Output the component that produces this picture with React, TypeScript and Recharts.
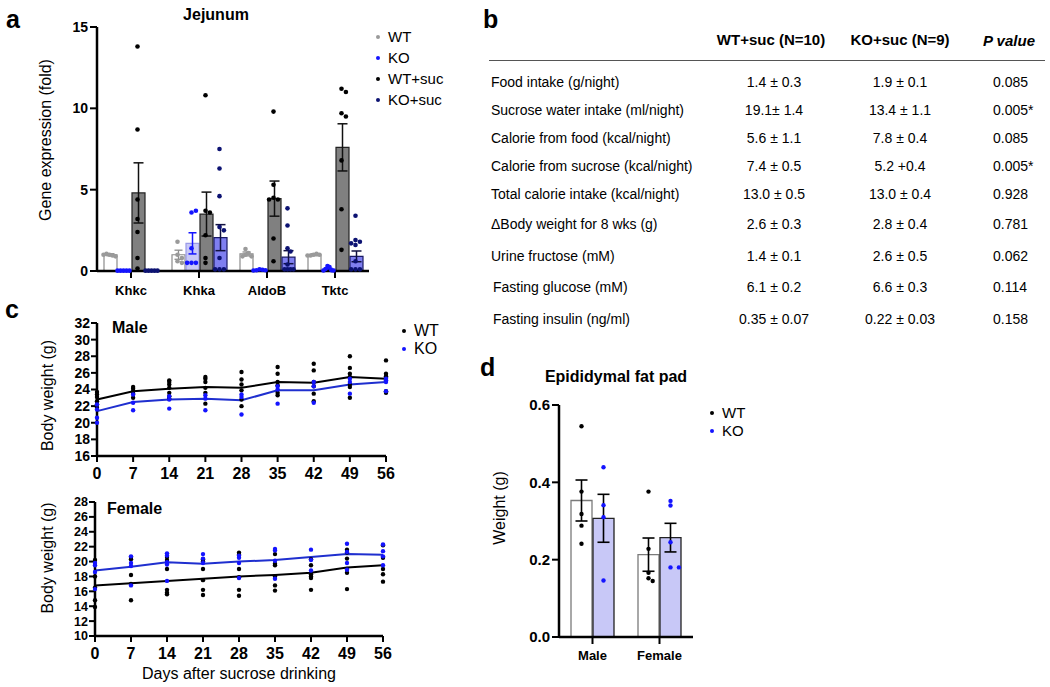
import React from 'react';
import { ComposedChart, Bar, ErrorBar, Scatter, XAxis, YAxis, Line } from 'recharts';

const FONT = '"Liberation Sans", Arial, Helvetica, sans-serif';

// ---------------- Panel a data ----------------
const genes = ['Khkc', 'Khka', 'AldoB', 'Tktc'];
const groupNames = ['WT', 'KO', 'WT+suc', 'KO+suc'];
const wtMean = [1.0, 1.0, 1.05, 1.0];
const wtSem = [0.06, 0.28, 0.12, 0.06];
const koMean = [0.02, 1.7, 0.05, 0.12];
const koSem = [0.01, 0.65, 0.02, 0.05];
const wtSucMean = [4.8, 3.5, 4.45, 7.6];
const wtSucSem = [1.85, 1.35, 1.08, 1.45];
const koSucMean = [0.02, 2.05, 0.85, 0.9];
const koSucSem = [0.01, 0.8, 0.4, 0.33];

const wtDots = [
  [1.0, 0.95, 1.05, 0.9, 1.0],
  [1.8, 1.0, 0.8, 0.6, 0.5],
  [1.35, 1.1, 1.0, 0.9, 0.9],
  [1.0, 1.05, 0.95, 1.0, 0.95],
];
const koDots = [
  [0.02, 0.02, 0.02, 0.02, 0.02],
  [3.6, 3.7, 1.4, 0.5, 0.5, 0.5],
  [0.1, 0.08, 0.05, 0.05, 0.03],
  [0.3, 0.25, 0.12, 0.05, 0.03, 0.03],
];
const wtSucDots = [
  [13.8, 8.7, 4.4, 3.2, 2.4, 0.8, 0.15],
  [10.8, 3.7, 3.6, 2.2, 0.8, 0.5],
  [9.8, 5.3, 4.5, 4.4, 4.4, 2.0, 0.6],
  [11.2, 11.0, 9.7, 9.5, 6.8, 3.8, 1.3],
];
const koSucDots = [
  [0.02, 0.02, 0.02, 0.02, 0.02],
  [7.5, 6.3, 4.6, 2.7, 2.5, 0.8, 0.1, 0.1, 0.1],
  [3.85, 2.8, 1.4, 1.2, 0.4, 0.1, 0.1, 0.1, 0.1],
  [3.4, 1.9, 1.8, 1.7, 1.6, 0.6, 0.1, 0.1, 0.1],
];
const aTicks = [0, 5, 10, 15];

// ---------------- Panel b data ----------------
const tableHeaders = ['WT+suc (N=10)', 'KO+suc (N=9)', 'P value'];
const tableLabels = [
  'Food intake (g/night)',
  'Sucrose water intake (ml/night)',
  'Calorie from food (kcal/night)',
  'Calorie from sucrose (kcal/night)',
  'Total calorie intake (kcal/night)',
  '\u0394Body weight for 8 wks (g)',
  'Urine fructose (mM)',
  'Fasting glucose (mM)',
  'Fasting insulin (ng/ml)',
];
const wtSucValues = ['1.4 \u00b1 0.3', '19.1\u00b1 1.4', '5.6 \u00b1 1.1', '7.4 \u00b1 0.5', '13.0 \u00b1 0.5', '2.6 \u00b1 0.3', '1.4 \u00b1 0.1', '6.1 \u00b1 0.2', '0.35 \u00b1 0.07'];
const koSucValues = ['1.9 \u00b1 0.1', '13.4 \u00b1 1.1', '7.8 \u00b1 0.4', '5.2 +0.4', '13.0 \u00b1 0.4', '2.8 \u00b1 0.4', '2.6 \u00b1 0.5', '6.6 \u00b1 0.3', '0.22 \u00b1 0.03'];
const pValues = ['0.085', '0.005*', '0.085', '0.005*', '0.928', '0.781', '0.062', '0.114', '0.158'];

// ---------------- Panel c data ----------------
const days = [0, 7, 14, 21, 28, 35, 42, 49, 56];
const maleWtMean = [22.8, 23.8, 24.1, 24.3, 24.2, 24.9, 24.8, 25.5, 25.3];
const maleKoMean = [21.4, 22.5, 22.8, 22.9, 22.7, 23.9, 23.9, 24.6, 24.9];
const maleWtPts = [
  [23.7, 23.4, 23.1, 22.6, 22.2, 21.8],
  [24.3, 24.1, 23.8, 23.5, 23.0],
  [25.1, 24.9, 24.6, 24.2, 23.6, 23.2, 22.9],
  [25.5, 25.3, 24.9, 24.2, 23.6, 22.3],
  [26.1, 25.2, 24.6, 23.9, 22.8, 22.0],
  [26.7, 25.9, 24.9, 24.5, 23.6, 23.3],
  [27.1, 26.3, 24.9, 24.4, 23.5, 22.6],
  [28.0, 26.6, 25.9, 25.5, 24.6, 24.3, 23.0],
  [27.5, 25.9, 25.6, 25.4, 23.8, 23.6],
];
const maleKoPts = [
  [22.2, 21.6, 20.6, 20.0],
  [23.4, 22.4, 21.5],
  [23.2, 22.8, 21.7],
  [23.3, 22.9, 21.5],
  [23.4, 23.1, 21.0],
  [24.4, 24.0, 22.3],
  [24.9, 24.4, 22.4],
  [25.3, 24.9, 23.5],
  [25.3, 25.1, 24.9, 23.8],
];
const femaleWtMean = [16.8, 17.1, 17.4, 17.7, 18.0, 18.2, 18.5, 19.2, 19.5];
const femaleKoMean = [18.8, 19.3, 19.9, 19.7, 20.0, 20.2, 20.6, 21.0, 20.9];
const femaleWtPts = [
  [20.2, 18.0, 16.5, 14.8, 13.9],
  [20.6, 20.3, 18.2, 17.0, 14.8],
  [20.6, 20.2, 19.0, 16.2, 15.8, 15.6],
  [20.3, 20.0, 19.0, 17.5, 16.2, 15.5],
  [21.2, 20.9, 19.0, 17.9, 16.2, 15.4],
  [21.0, 19.7, 19.5, 18.0, 16.8, 16.1],
  [20.3, 19.5, 18.3, 18.0, 17.8, 16.2],
  [21.6, 21.2, 20.4, 19.0, 18.5, 16.3],
  [22.2, 20.5, 19.0, 18.3, 17.3],
];
const femaleKoPts = [
  [19.8, 19.5, 18.6, 16.3],
  [20.7, 19.8, 19.4, 16.8],
  [21.1, 20.8, 19.9, 19.6, 17.4],
  [21.0, 20.4, 19.8],
  [20.8, 20.5, 19.8, 17.8],
  [21.7, 21.5, 20.1, 17.7],
  [21.6, 20.2, 18.8],
  [22.4, 21.3, 19.8, 18.9],
  [22.3, 21.4, 20.7, 19.5],
];
const maleTicks = [16, 18, 20, 22, 24, 26, 28, 30, 32];
const femaleTicks = [10, 12, 14, 16, 18, 20, 22, 24, 26, 28];

// ---------------- Panel d data ----------------
const sexes = ['Male', 'Female'];
const fatWtMean = [0.353, 0.213];
const fatWtSem = [0.053, 0.043];
const fatKoMean = [0.307, 0.257];
const fatKoSem = [0.062, 0.037];
const fatWtDots = [
  [0.545, 0.376, 0.318, 0.288, 0.241],
  [0.376, 0.228, 0.166, 0.152, 0.145],
];
const fatKoDots = [
  [0.439, 0.341, 0.31, 0.146],
  [0.352, 0.34, 0.245, 0.18, 0.18],
];
const fatTicks = [0, 0.2, 0.4, 0.6];

// ---------------- colours ----------------
const GREY_DOT = '#9a9a9a';
const BLUE = '#1414ff';
const NAVY = '#0c1272';
const LINE_BLUE = '#1f2fcf';

// ---------------- helpers ----------------
// beeswarm offsets in pixels, kept within the bar
function swarm(values: number[], pxPerUnit: number, step: number, maxHalf: number, diam = 4.4): number[] {
  const placed: { dx: number; py: number }[] = [];
  const offs = values.map((v) => {
    const py = v * pxPerUnit;
    const cands = [0];
    for (let k = 1; k < 10; k++) cands.push(k * step, -k * step);
    for (const c of cands) {
      const ok = placed.every((p) => Math.hypot(p.dx - c, p.py - py) >= diam);
      if (ok) {
        placed.push({ dx: c, py });
        return c;
      }
    }
    placed.push({ dx: 0, py });
    return 0;
  });
  const m = Math.max(...offs.map((o) => Math.abs(o)));
  const s = m > maxHalf ? maxHalf / m : 1;
  return offs.map((o) => o * s);
}

function barCenter(j: number, n: number, band: number, size: number, gap: number) {
  const sum = n * size + (n - 1) * gap;
  const off = ((band - sum) / 2) >> 0;
  return off + j * (size + gap) + size / 2;
}

function groupPoints(dots: number[][], j: number, n: number, band: number, size: number, gap: number, pxPerUnit: number, step: number) {
  const out: { x: number; y: number }[] = [];
  dots.forEach((vals, i) => {
    const offs = swarm(vals, pxPerUnit, step, size / 2 - 0.5);
    vals.forEach((v, k) => {
      out.push({ x: i + (barCenter(j, n, band, size, gap) + offs[k]) / band, y: v });
    });
  });
  return out;
}

const dotShape = (color: string, r = 2.3) => (p: any) => <circle cx={p.cx} cy={p.cy} r={r} fill={color} />;

const tickBold = (size: number) => ({ fontSize: size, fontWeight: 700, fill: '#000' });
const axisLine = { stroke: '#000', strokeWidth: 2.5 };
const tickLine = { stroke: '#000', strokeWidth: 2 };

// ---------------- Panel a ----------------
const A_W = 470, A_H = 310, A_TOP = 27, A_XH = 39, A_YW = 97, A_RIGHT = 101;
const A_BAND = (A_W - A_YW - A_RIGHT) / genes.length;
const A_PX = (A_H - A_TOP - A_XH) / 15;
const A_BAR = 13, A_GAP = 1;

function PanelA() {
  const data = genes.map((g, i) => ({
    gene: g,
    wt: wtMean[i], wtE: wtSem[i],
    ko: koMean[i], koE: koSem[i],
    ws: wtSucMean[i], wsE: wtSucSem[i],
    ks: koSucMean[i], ksE: koSucSem[i],
  }));
  const allDots = [wtDots, koDots, wtSucDots, koSucDots];
  const dotColors = [GREY_DOT, BLUE, '#000', NAVY];
  const pts = allDots.map((d, j) => groupPoints(d, j, 4, A_BAND, A_BAR, A_GAP, A_PX, 4.4));
  return (
    <ComposedChart width={A_W} height={A_H} data={data} margin={{ top: A_TOP, right: A_RIGHT, bottom: 0, left: 0 }} barSize={A_BAR} barGap={A_GAP}>
      <XAxis xAxisId="c" dataKey="gene" type="category" height={A_XH} axisLine={axisLine} tickLine={tickLine} tickSize={7} tick={tickBold(13)} tickMargin={8} interval={0} />
      <XAxis xAxisId="n" dataKey="x" type="number" domain={[0, 4]} allowDataOverflow hide />
      <YAxis domain={[0, 15]} ticks={aTicks} width={A_YW} axisLine={axisLine} tickLine={tickLine} tickSize={7} tick={tickBold(14)} tickMargin={2} interval={0}
        label={{ value: 'Gene expression (fold)', angle: -90, position: 'insideLeft', offset: 45, dy: -9, style: { textAnchor: 'middle', fontSize: 16, fill: '#000' } }} />
      <Bar xAxisId="c" dataKey="wt" fill="#ffffff" stroke="#8c8c8c" strokeWidth={1.2} isAnimationActive={false}>
        <ErrorBar dataKey="wtE" width={4} stroke="#8c8c8c" strokeWidth={1.3} />
      </Bar>
      <Bar xAxisId="c" dataKey="ko" fill="#c9c9f7" stroke="#9a9ae8" strokeWidth={1.2} isAnimationActive={false}>
        <ErrorBar dataKey="koE" width={4} stroke={BLUE} strokeWidth={1.5} />
      </Bar>
      <Bar xAxisId="c" dataKey="ws" fill="#808080" stroke="#222" strokeWidth={1.2} isAnimationActive={false}>
        <ErrorBar dataKey="wsE" width={5} stroke="#111" strokeWidth={1.5} />
      </Bar>
      <Bar xAxisId="c" dataKey="ks" fill="#7f7ff0" stroke="#1a1a66" strokeWidth={1.2} isAnimationActive={false}>
        <ErrorBar dataKey="ksE" width={5} stroke="#111140" strokeWidth={1.5} />
      </Bar>
      {pts.map((p, j) => (
        <Scatter key={groupNames[j]} xAxisId="n" data={p} dataKey="y" shape={dotShape(dotColors[j])} isAnimationActive={false} />
      ))}
    </ComposedChart>
  );
}

// ---------------- Panel c ----------------
function WeightChart(props: { wtMean: number[]; koMean: number[]; wtPts: number[][]; koPts: number[][]; ticks: number[]; top: number; height: number; xh: number; yw: number; right: number; ytick: number; labelDy: number; xlabel?: string }) {
  const lineData = days.map((d, i) => ({ day: d, wt: props.wtMean[i], ko: props.koMean[i] }));
  const flat = (arr: number[][]) => arr.flatMap((vals, i) => vals.map((v) => ({ day: days[i], w: v })));
  const lo = props.ticks[0], hi = props.ticks[props.ticks.length - 1];
  return (
    <ComposedChart width={470} height={props.height} data={lineData} margin={{ top: props.top, right: props.right, bottom: 0, left: 0 }}>
      <XAxis dataKey="day" type="number" domain={[0, 56]} ticks={days} height={props.xh} axisLine={axisLine} tickLine={tickLine} tickSize={6} tick={tickBold(16)} tickMargin={6} interval={0}
        label={props.xlabel ? { value: props.xlabel, position: 'insideBottom', offset: 8, style: { fontSize: 16, fill: '#000' } } : undefined} />
      <YAxis domain={[lo, hi]} ticks={props.ticks} width={props.yw} axisLine={axisLine} tickLine={tickLine} tickSize={6} tick={tickBold(props.ytick)} tickMargin={1} interval={0}
        label={{ value: 'Body weight (g)', angle: -90, position: 'insideLeft', offset: 47, dy: props.labelDy, style: { textAnchor: 'middle', fontSize: 16, fill: '#000' } }} />
      <Scatter data={flat(props.wtPts)} dataKey="w" shape={dotShape('#000', 2.2)} isAnimationActive={false} />
      <Scatter data={flat(props.koPts)} dataKey="w" shape={dotShape(BLUE, 2.2)} isAnimationActive={false} />
      <Line type="linear" dataKey="wt" stroke="#000" strokeWidth={2} dot={false} isAnimationActive={false} />
      <Line type="linear" dataKey="ko" stroke={LINE_BLUE} strokeWidth={2} dot={false} isAnimationActive={false} />
    </ComposedChart>
  );
}

// ---------------- Panel d ----------------
const D_W = 250, D_H = 307, D_TOP = 25, D_XH = 50, D_YW = 99, D_RIGHT = 17;
const D_BAND = (D_W - D_YW - D_RIGHT) / sexes.length;
const D_PX = (D_H - D_TOP - D_XH) / 0.6;
const D_BAR = 21, D_GAP = 1;

function PanelD() {
  const data = sexes.map((s, i) => ({ sex: s, wt: fatWtMean[i], wtE: fatWtSem[i], ko: fatKoMean[i], koE: fatKoSem[i] }));
  const wtPts = groupPoints(fatWtDots, 0, 2, D_BAND, D_BAR, D_GAP, D_PX, 4.2);
  const koPts = groupPoints(fatKoDots, 1, 2, D_BAND, D_BAR, D_GAP, D_PX, 4.2);
  return (
    <ComposedChart width={D_W} height={D_H} data={data} margin={{ top: D_TOP, right: D_RIGHT, bottom: 0, left: 0 }} barSize={D_BAR} barGap={D_GAP}>
      <XAxis xAxisId="c" dataKey="sex" type="category" height={D_XH} axisLine={axisLine} tickLine={tickLine} tickSize={7} tick={tickBold(13)} tickMargin={7} interval={0} />
      <XAxis xAxisId="n" dataKey="x" type="number" domain={[0, 2]} allowDataOverflow hide />
      <YAxis domain={[0, 0.6]} ticks={fatTicks} width={D_YW} axisLine={axisLine} tickLine={tickLine} tickSize={7} tick={tickBold(15)} tickMargin={2} interval={0}
        tickFormatter={(v: number) => v.toFixed(1)}
        label={{ value: 'Weight (g)', angle: -90, position: 'insideLeft', offset: 39, dy: -13, style: { textAnchor: 'middle', fontSize: 16, fill: '#000' } }} />
      <Bar xAxisId="c" dataKey="wt" fill="#ffffff" stroke="#7a7a7a" strokeWidth={1.3} isAnimationActive={false}>
        <ErrorBar dataKey="wtE" width={6} stroke="#000" strokeWidth={1.6} />
      </Bar>
      <Bar xAxisId="c" dataKey="ko" fill="#c8c8f7" stroke="#222" strokeWidth={1.3} isAnimationActive={false}>
        <ErrorBar dataKey="koE" width={6} stroke="#000" strokeWidth={1.6} />
      </Bar>
      <Scatter xAxisId="n" data={wtPts} dataKey="y" shape={dotShape('#000', 2.2)} isAnimationActive={false} />
      <Scatter xAxisId="n" data={koPts} dataKey="y" shape={dotShape(BLUE, 2.2)} isAnimationActive={false} />
    </ComposedChart>
  );
}

// ---------------- layout helpers ----------------
const abs = (left: number, top: number, extra: React.CSSProperties = {}): React.CSSProperties => ({ position: 'absolute', left, top, ...extra });

function Txt(props: { x: number; y: number; children: React.ReactNode; size?: number; bold?: boolean; italic?: boolean; align?: 'left' | 'center' }) {
  const size = props.size ?? 14;
  const style: React.CSSProperties = {
    position: 'absolute', top: props.y - size * 0.6, fontSize: size, lineHeight: `${size * 1.2}px`,
    fontWeight: props.bold ? 700 : 400, fontStyle: props.italic ? 'italic' : 'normal', whiteSpace: 'nowrap', color: '#000',
  };
  if (props.align === 'center') {
    style.left = props.x - 150; style.width = 300; style.textAlign = 'center';
  } else {
    style.left = props.x;
  }
  return <div style={style}>{props.children}</div>;
}

function LegendBlock(props: { x: number; y: number; items: string[]; colors: string[]; spacing: number; size: number }) {
  return (
    <>
      {props.items.map((it, i) => (
        <React.Fragment key={it}>
          <div style={abs(props.x - 2.3, props.y + i * props.spacing - 2.3, { width: 4.6, height: 4.6, borderRadius: '50%', background: props.colors[i] })} />
          <Txt x={props.x + 10} y={props.y + i * props.spacing} size={props.size}>{it}</Txt>
        </React.Fragment>
      ))}
    </>
  );
}

const rowY = [82, 110, 138, 166, 194, 224, 256, 287, 319];

export default function App() {
  return (
    <div style={{ position: 'absolute', left: 0, top: 0, width: 1050, height: 687, background: '#fff', fontFamily: FONT, overflow: 'hidden' }}>
      {/* Panel a */}
      <div style={abs(0, 0)}><PanelA /></div>
      <Txt x={216} y={15} size={16} bold align="center">Jejunum</Txt>
      <LegendBlock x={378} y={37} items={groupNames} colors={[GREY_DOT, BLUE, '#000', NAVY]} spacing={21} size={15} />
      <Txt x={6} y={19} size={25} bold>a</Txt>

      {/* Panel b */}
      <Txt x={483} y={19} size={25} bold>b</Txt>
      <Txt x={771} y={40} size={15} bold align="center">{tableHeaders[0]}</Txt>
      <Txt x={900} y={40} size={15} bold align="center">{tableHeaders[1]}</Txt>
      <Txt x={1009} y={41} size={15} bold italic align="center">{tableHeaders[2]}</Txt>
      <div style={abs(489, 60, { width: 556, height: 0, borderTop: '1.5px solid #555' })} />
      {tableLabels.map((l, i) => (
        <React.Fragment key={l}>
          <Txt x={i >= 7 ? 493 : 491} y={rowY[i]} size={14}>{l}</Txt>
          <Txt x={774} y={rowY[i]} size={14} align="center">{wtSucValues[i]}</Txt>
          <Txt x={900} y={rowY[i]} size={14} align="center">{koSucValues[i]}</Txt>
          <Txt x={993} y={rowY[i]} size={14}>{pValues[i]}</Txt>
        </React.Fragment>
      ))}

      {/* Panel c */}
      <Txt x={5} y={309} size={25} bold>c</Txt>
      <div style={abs(0, 300)}>
        <WeightChart wtMean={maleWtMean} koMean={maleKoMean} wtPts={maleWtPts} koPts={maleKoPts} ticks={maleTicks} top={23} height={190} xh={34} yw={97} right={84} ytick={14} labelDy={6} />
      </div>
      <Txt x={112} y={328} size={16} bold>Male</Txt>
      <LegendBlock x={404} y={331} items={['WT', 'KO']} colors={['#000', BLUE]} spacing={18} size={16} />
      <div style={abs(0, 490)}>
        <WeightChart wtMean={femaleWtMean} koMean={femaleKoMean} wtPts={femaleWtPts} koPts={femaleKoPts} ticks={femaleTicks} top={12} height={197} xh={51} yw={95} right={87} ytick={12.5} labelDy={-11} xlabel="Days after sucrose drinking" />
      </div>
      <Txt x={107} y={509} size={16} bold>Female</Txt>

      {/* Panel d */}
      <Txt x={480} y={367} size={25} bold>d</Txt>
      <Txt x={616} y={377} size={16} bold align="center">Epididymal fat pad</Txt>
      <div style={abs(460, 380)}><PanelD /></div>
      <LegendBlock x={712} y={413} items={['WT', 'KO']} colors={['#000', BLUE]} spacing={18} size={15} />
    </div>
  );
}
